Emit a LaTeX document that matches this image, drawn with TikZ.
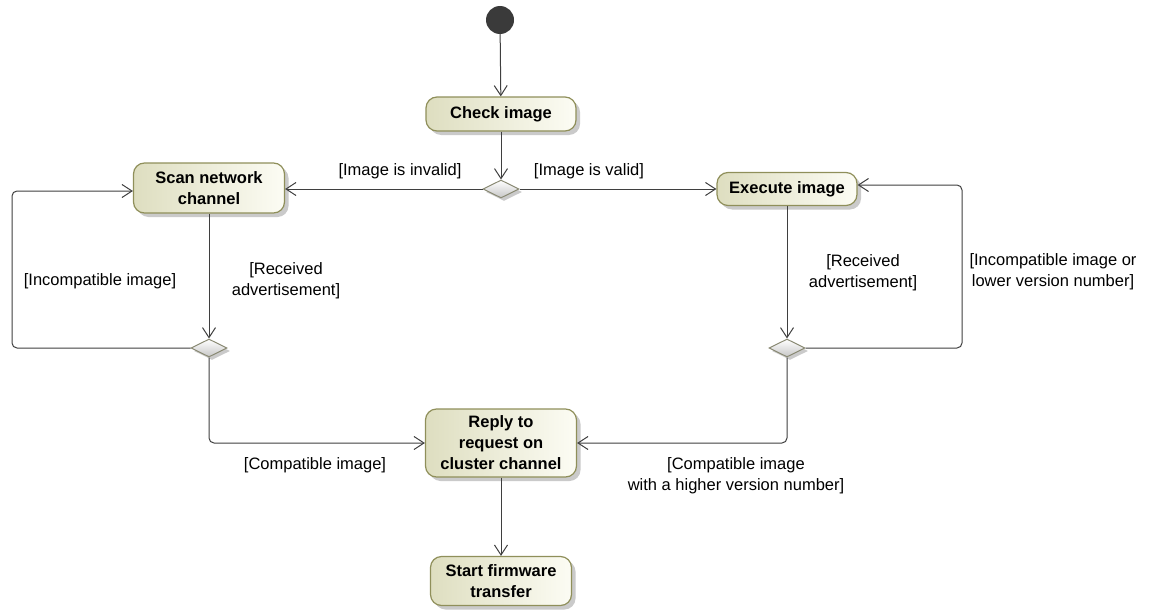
\documentclass[tikz,border=0pt]{standalone}
\usepackage{fontspec}
\setmainfont{Liberation Sans}
\usetikzlibrary{arrows.meta,shapes.geometric,shadows}
\definecolor{flowline}{HTML}{3F3F3F}
\definecolor{actborder}{HTML}{8F8F5A}
\definecolor{actdark}{HTML}{DEDEC0}
\definecolor{actlight}{HTML}{FCFCF4}
\definecolor{decborder}{HTML}{8A8A74}
\definecolor{startfill}{HTML}{3A3A3A}
\begin{document}
\begin{tikzpicture}[x=1pt,y=-1pt,
  every node/.style={font=\fontsize{16.5}{21}\selectfont},
  action/.style={draw=actborder, line width=1.2pt, rounded corners=11pt,
    left color=actdark, right color=actlight, align=center, inner sep=0pt,
    font=\fontsize{16.5}{21}\selectfont\bfseries,
    drop shadow={shadow xshift=4pt, shadow yshift=-4pt, fill=black!35, opacity=0.6}},
  decision/.style={diamond, draw=decborder, line width=1pt, inner sep=0pt,
    minimum width=36pt, minimum height=18pt,
    top color=white, bottom color=black!22,
    drop shadow={shadow xshift=3pt, shadow yshift=-3pt, fill=black!35, opacity=0.6}},
  flow/.style={draw=flowline, line width=1pt,
    -{Straight Barb[length=10pt,width=13pt,line width=1pt]}},
  guard/.style={align=center, inner sep=0pt}
]
\useasboundingbox (0,0) rectangle (1151,610);

% initial node
\node[circle, fill=startfill, minimum size=28pt, inner sep=0pt] (start) at (500,20) {};

% actions
\node[action, minimum width=150pt, minimum height=34pt] (check) at (501,114) {Check image};
\node[action, minimum width=151pt, minimum height=50pt] (scan) at (209,188) {Scan network\\channel};
\node[action, minimum width=140pt, minimum height=33pt] (exec) at (787,189) {Execute image};
\node[action, minimum width=151pt, minimum height=68pt] (reply) at (501,443) {Reply to\\request on\\cluster channel};
\node[action, minimum width=141pt, minimum height=49pt] (fw) at (501,581) {Start firmware\\transfer};

% decisions
\node[decision] (d1) at (501,189) {};
\node[decision] (dl) at (209,348) {};
\node[decision] (dr) at (787,348) {};

% loop corners
\coordinate (lc) at (12,348);
\coordinate (rc) at (962,348);

% control flows
\draw[flow] (start) -- (check);
\draw[flow] (check) -- (d1);
\draw[flow] (d1.west) -- (d1.west -| scan.east);
\draw[flow] (d1.east) -- (d1.east -| exec.west);
\draw[flow] (scan) -- (dl);
\draw[flow] (exec) -- (dr);
\draw[flow, rounded corners=5pt] (dl.west) -- (lc) |- ([yshift=-3pt]scan.west);
\draw[flow, rounded corners=5pt] (dr.east) -- (rc) |- ([yshift=4pt]exec.east);
\draw[flow, rounded corners=5pt] (dl.south) |- (reply.west);
\draw[flow, rounded corners=5pt] (dr.south) |- (reply.east);
\draw[flow] (reply) -- (fw);

% guards
\node[guard] (g1) at (400,171) {[Image is invalid]};
\node[guard] (g2) at (589,171) {[Image is valid]};
\node[guard] (g3) at (286,281) {[Received\\advertisement]};
\node[guard] (g4) at (100,281) {[Incompatible image]};
\node[guard] (g5) at (863,273) {[Received\\advertisement]};
\node[guard] (g6) at (1053,272) {[Incompatible image or\\lower version number]};
\node[guard] (g7) at (315,465) {[Compatible image]};
\node[guard] (g8) at (736,476) {[Compatible image\\with a higher version number]};
\end{tikzpicture}
\end{document}
